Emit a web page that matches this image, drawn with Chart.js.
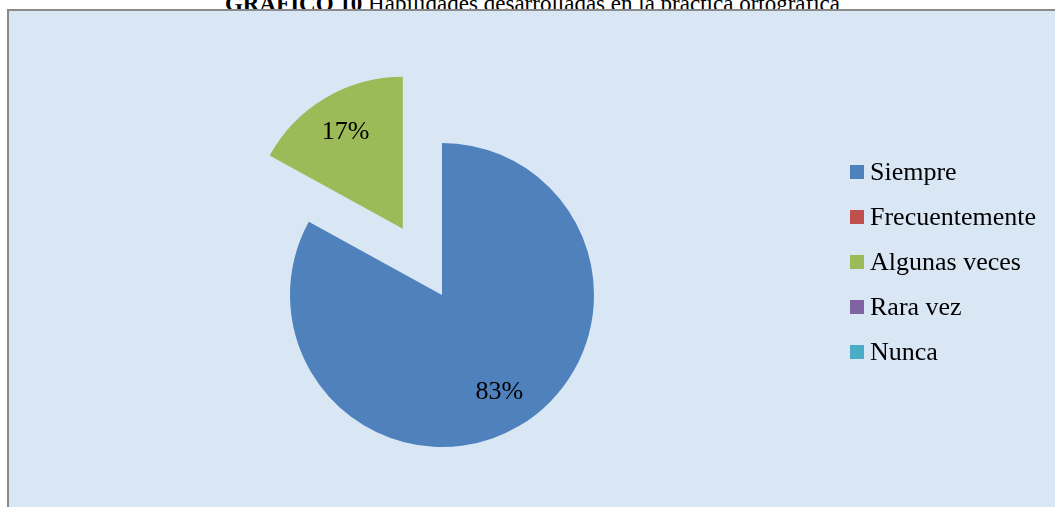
<!DOCTYPE html>
<html>
<head>
<meta charset="utf-8">
<script src="https://cdn.jsdelivr.net/npm/chart.js@4/dist/chart.umd.min.js"></script>
<style>
  html, body { margin: 0; padding: 0; background: #fff; overflow: hidden; }
  #titulo {
    position: absolute; left: 0; width: 1065px; top: -8px;
    text-align: center; font: 23px "Liberation Serif", "Times New Roman", serif;
    line-height: 23px; color: #000; z-index: 0; white-space: nowrap;
  }
  #marco {
    position: absolute; left: 7px; top: 9px; width: 1100px; height: 600px;
    border-left: 2px solid #8a8a8a; border-top: 2px solid #8a8a8a;
    background: #d9e6f4; z-index: 1;
  }
  #wrap { position: absolute; left: 0; top: 0; width: 1055px; height: 507px; z-index: 2; }
</style>
</head>
<body>
<div id="titulo"><b>GRAFICO 10</b> Habilidades desarrolladas en la práctica ortográfica</div>
<div id="marco"></div>
<div id="wrap"><canvas id="torta"></canvas></div>
<script>
// datos del grafico
var categorias = ["Siempre", "Frecuentemente", "Algunas veces", "Rara vez", "Nunca"];
var porcentajes = [83, 0, 17, 0, 0];
var colores = ["#4F81BD", "#C0504D", "#9BBB59", "#8064A2", "#4BACC6"];
var separado = [0, 0, 77, 0, 0]; // porcion separada del centro (px)

var fuente = '"Liberation Serif", "Times New Roman", serif';

// separa la porcion sin agrandar el radio
var separar = {
  id: 'separar',
  beforeDatasetsDraw: function(chart) {
    var meta = chart.getDatasetMeta(0);
    meta.data.forEach(function(arc, i) {
      if (!separado[i] || arc._separado) return;
      var dibujar = arc.draw;
      arc.draw = function(ctx) {
        var a = (this.startAngle + this.endAngle) / 2;
        ctx.save();
        ctx.translate(Math.cos(a) * separado[i], Math.sin(a) * separado[i]);
        dibujar.call(this, ctx);
        ctx.restore();
      };
      arc._separado = true;
    });
  }
};

// etiquetas de porcentaje
var etiquetas = {
  id: 'etiquetas',
  afterDatasetsDraw: function(chart) {
    var ctx = chart.ctx;
    var meta = chart.getDatasetMeta(0);
    ctx.save();
    ctx.font = '26px ' + fuente;
    ctx.fillStyle = '#000';
    ctx.textAlign = 'center';
    ctx.textBaseline = 'middle';
    meta.data.forEach(function(arc, i) {
      if (!porcentajes[i]) return;
      var a = (arc.startAngle + arc.endAngle) / 2;
      var d = separado[i] + arc.outerRadius * 0.74;
      ctx.fillText(porcentajes[i] + '%', arc.x + Math.cos(a) * d, arc.y + Math.sin(a) * d);
    });
    ctx.restore();
  }
};

// leyenda a la derecha
var leyenda = {
  id: 'leyenda',
  afterDraw: function(chart) {
    var ctx = chart.ctx;
    var x = 850, y = 172, paso = 45;
    ctx.save();
    ctx.font = '26px ' + fuente;
    ctx.textBaseline = 'middle';
    ctx.textAlign = 'left';
    for (var i = 0; i < categorias.length; i++) {
      ctx.fillStyle = colores[i];
      ctx.fillRect(x, y + i * paso - 7, 14, 14);
      ctx.fillStyle = '#000';
      ctx.fillText(categorias[i], x + 20, y + i * paso + 1);
    }
    ctx.restore();
  }
};

new Chart(document.getElementById('torta'), {
  type: 'pie',
  data: {
    labels: categorias,
    datasets: [{
      data: porcentajes,
      backgroundColor: colores,
      borderWidth: 0
    }]
  },
  options: {
    responsive: true,
    maintainAspectRatio: false,
    animation: false,
    radius: 152,
    layout: { padding: { left: 8, right: 179, top: 95, bottom: 12 } },
    plugins: {
      legend: { display: false },
      tooltip: { enabled: false }
    }
  },
  plugins: [separar, etiquetas, leyenda]
});
</script>
</body>
</html>
